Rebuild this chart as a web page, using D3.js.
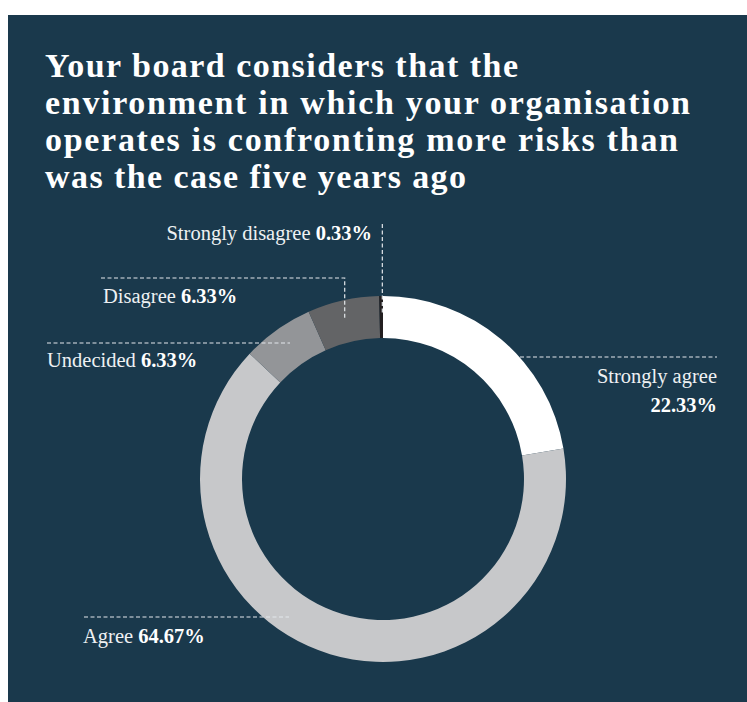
<!DOCTYPE html>
<html>
<head>
<meta charset="utf-8">
<script src="https://cdn.jsdelivr.net/npm/d3@7"></script>
<style>
  html, body { margin: 0; padding: 0; background: #ffffff; }
  svg { display: block; }
</style>
</head>
<body>
<svg id="chart" width="747" height="702"></svg>
<script>
// ---- Data ----
const categories = ["Strongly agree", "Agree", "Undecided", "Disagree", "Strongly disagree"];
const values = [22.33, 64.67, 6.33, 6.33, 0.33];
const valueLabels = ["22.33%", "64.67%", "6.33%", "6.33%", "0.33%"];
const titleLines = [
  "Your board considers that the",
  "environment in which your organisation",
  "operates is confronting more risks than",
  "was the case five years ago"
];

// ---- Styles / layout ----
const sliceColors = ["#ffffff", "#c7c8ca", "#939598", "#636466", "#231f20"];
const bg = "#1a394c";
const W = 747, H = 702;
const cx = 383, cy = 479, rOuter = 183, rInner = 141;
const serif = "'Liberation Serif', 'Times New Roman', serif";

const svg = d3.select("#chart");
svg.append("rect").attr("x", 8).attr("y", 15).attr("width", W - 8).attr("height", H - 15).attr("fill", bg);

// Title
const titleWidths = [473, 645, 633, 421];
const title = svg.append("g");
titleLines.forEach((t, i) => {
  title.append("text")
    .attr("x", 45).attr("y", 77 + i * 37)
    .attr("fill", "#ffffff")
    .attr("font-family", serif)
    .attr("font-weight", "bold")
    .attr("font-size", 34)
    .attr("textLength", titleWidths[i])
    .attr("lengthAdjust", "spacing")
    .text(t);
});

// Donut
const pie = d3.pie().sort(null).value(d => d.value);
const arcs = pie(categories.map((c, i) => ({ cat: c, value: values[i], color: sliceColors[i] })));
const arc = d3.arc().innerRadius(rInner).outerRadius(rOuter);
const g = svg.append("g").attr("transform", `translate(${cx},${cy})`);
g.selectAll("path").data(arcs).enter().append("path")
  .attr("d", arc)
  .attr("fill", d => d.data.color);

// Leader lines
const lineColor = "#e4e8eb";
const midArc = d3.arc().innerRadius(162).outerRadius(162);
function dashed(points) {
  svg.append("path")
    .attr("d", d3.line()(points))
    .attr("fill", "none")
    .attr("stroke", lineColor)
    .attr("stroke-width", 1.2)
    .attr("stroke-dasharray", "4,2.5");
}
const cent = arcs.map(a => {
  const c = midArc.centroid(a);
  return [c[0] + cx, c[1] + cy];
});
// Strongly disagree: vertical from label to slice
dashed([[cent[4][0] + 1, 224], [cent[4][0] + 1, cent[4][1] - 4]]);
// Disagree: horizontal then down to slice
dashed([[101, 278], [cent[3][0] - 3, 278], [cent[3][0] - 3, cent[3][1] - 1]]);
// Undecided
dashed([[47, 343], [290, 343]]);
// Strongly agree
dashed([[520, 357], [717, 357]]);
// Agree
dashed([[84, 617], [289, 617]]);

// Labels
const labelColor = "#eef1f3";
function label(x, y, anchor, name, val) {
  const t = svg.append("text")
    .attr("x", x).attr("y", y)
    .attr("text-anchor", anchor)
    .attr("fill", labelColor)
    .attr("font-family", serif)
    .attr("font-size", 20.5);
  if (name !== null) t.append("tspan").text(name + (val !== null ? " " : ""));
  if (val !== null) t.append("tspan").attr("font-weight", "bold").attr("fill", "#ffffff").text(val);
  return t;
}
label(372, 240, "end", categories[4], valueLabels[4]);
label(103, 303, "start", categories[3], valueLabels[3]);
label(47, 367, "start", categories[2], valueLabels[2]);
label(717, 383, "end", categories[0], null);
label(717, 412, "end", null, valueLabels[0]);
label(83, 643, "start", categories[1], valueLabels[1]);
</script>
</body>
</html>
